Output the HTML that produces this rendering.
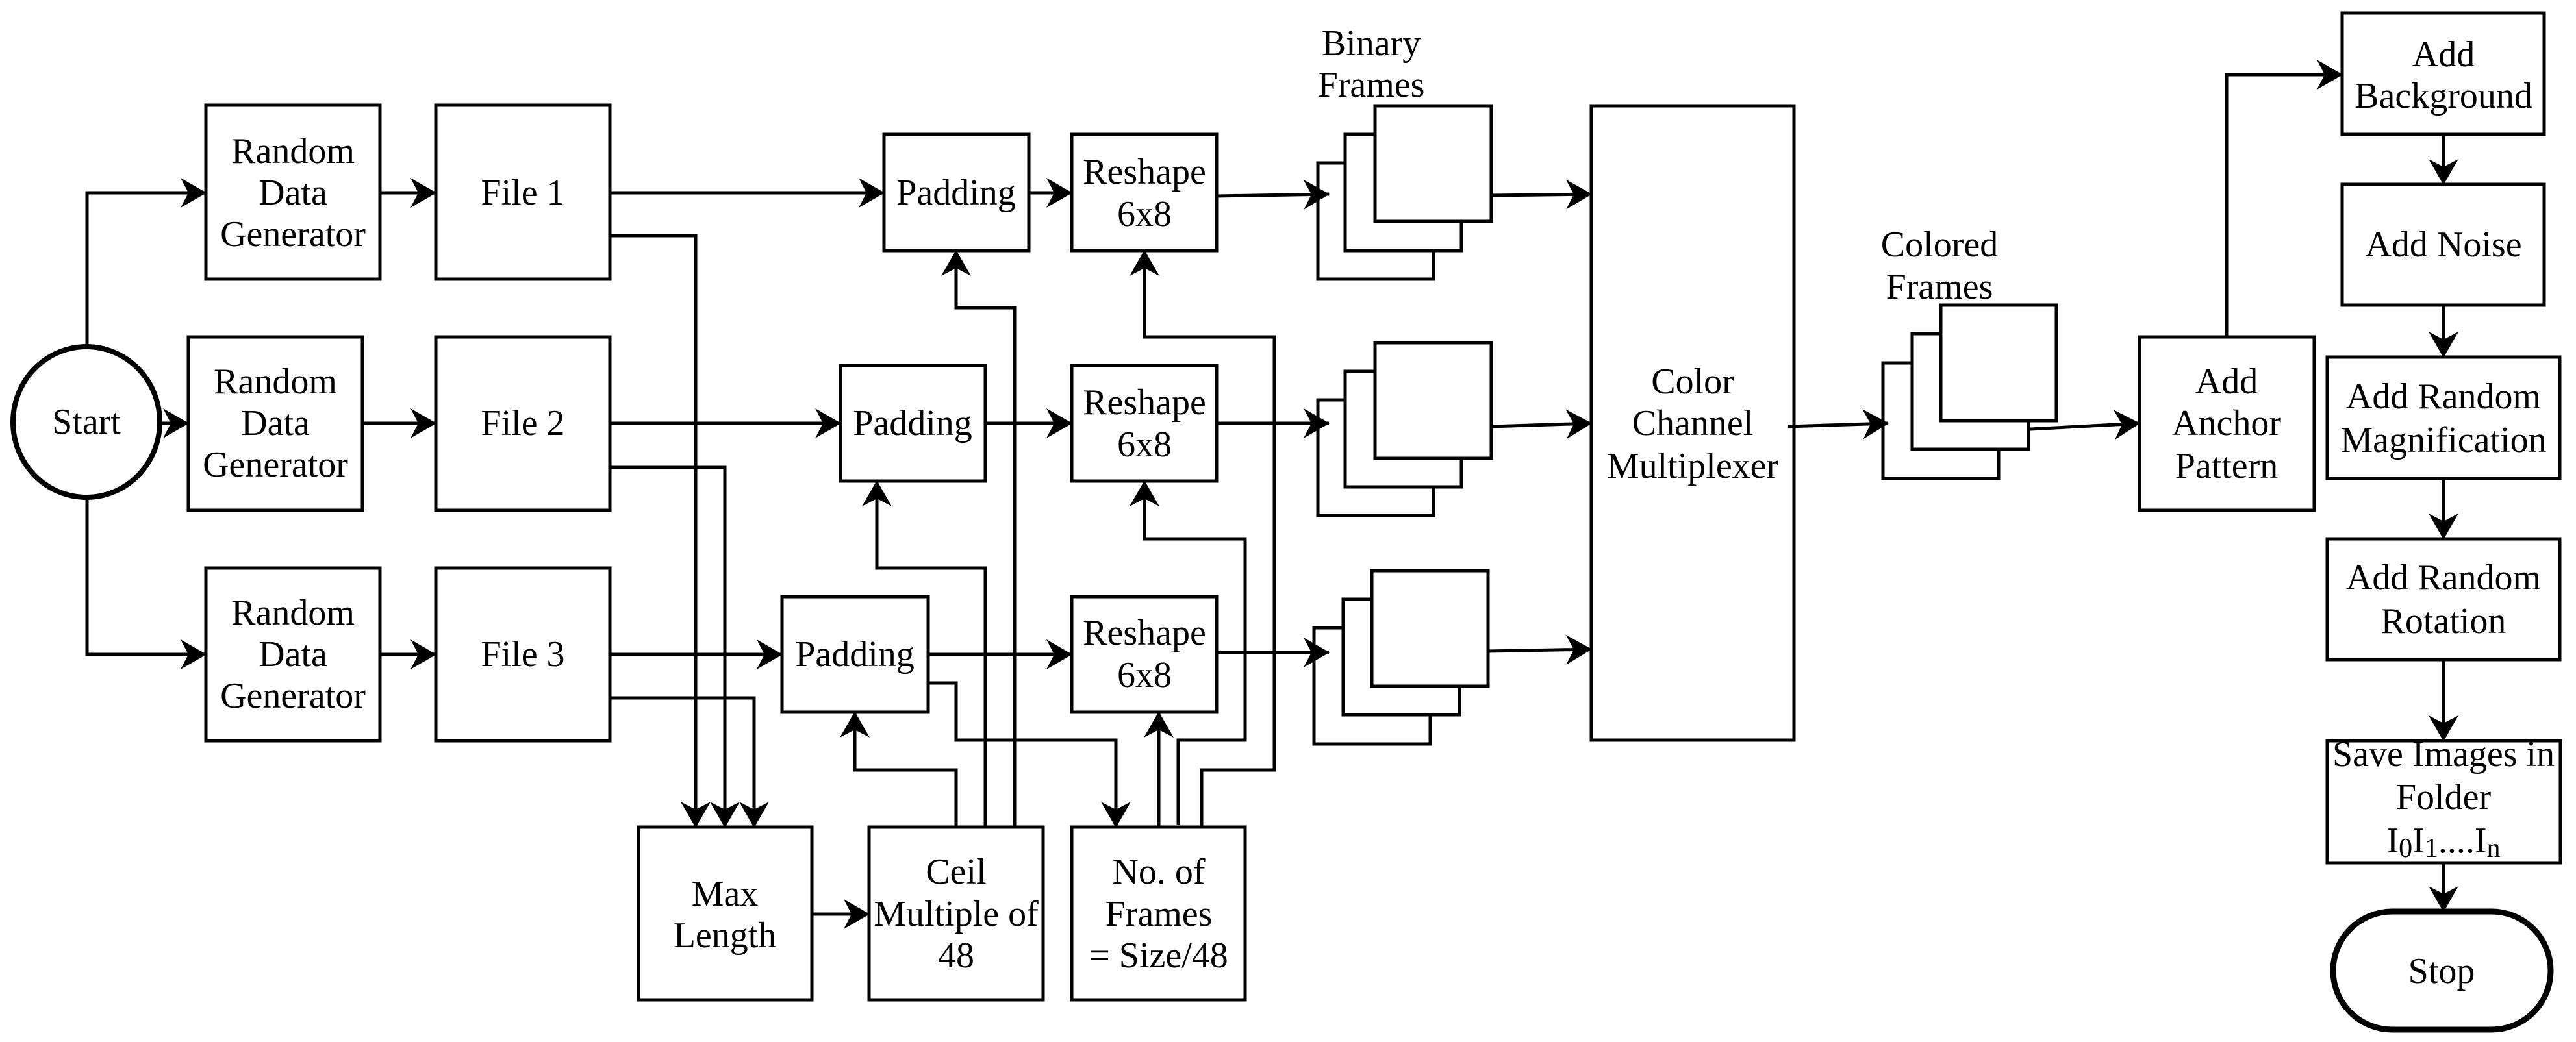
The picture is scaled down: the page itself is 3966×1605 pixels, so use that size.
<!DOCTYPE html>
<html><head><meta charset="utf-8"><style>
html,body{margin:0;padding:0;background:#fff;}
svg{display:block;}
text{font-family:"Liberation Serif","Times New Roman","DejaVu Serif",serif;font-size:56px;fill:#000;text-anchor:middle;dominant-baseline:central;}
</style></head><body>
<svg width="3966" height="1605" viewBox="0 0 3966 1605" xmlns="http://www.w3.org/2000/svg">
<defs>
<marker id="a" markerUnits="userSpaceOnUse" viewBox="0 0 40 46" markerWidth="40" markerHeight="46" refX="39" refY="23" orient="auto">
<path d="M0,0 L40,23 L0,46 L12,23 z" fill="#000"/>
</marker>
</defs>
<g fill="#fff" stroke="#000" stroke-width="5">
<ellipse cx="133" cy="650" rx="113" ry="116" stroke-width="8"/>
<rect x="317" y="162" width="268" height="268"/>
<rect x="290" y="519" width="268" height="267"/>
<rect x="317" y="875" width="268" height="266"/>
<rect x="671" y="162" width="268" height="268"/>
<rect x="671" y="519" width="268" height="267"/>
<rect x="671" y="875" width="268" height="266"/>
<rect x="1361" y="207" width="223" height="179"/>
<rect x="1294" y="563" width="223" height="178"/>
<rect x="1204" y="919" width="225" height="178"/>
<rect x="1650" y="207" width="223" height="179"/>
<rect x="1650" y="563" width="223" height="178"/>
<rect x="1650" y="919" width="223" height="178"/>
<rect x="983" y="1274" width="267" height="266"/>
<rect x="1338" y="1274" width="268" height="266"/>
<rect x="1650" y="1274" width="267" height="266"/>
<rect x="2029" y="251" width="178" height="179"/>
<rect x="2071" y="207" width="179" height="179"/>
<rect x="2117" y="163" width="179" height="178"/>
<rect x="2029" y="616" width="178" height="178"/>
<rect x="2071" y="572" width="179" height="178"/>
<rect x="2117" y="528" width="179" height="178"/>
<rect x="2023" y="967" width="179" height="179"/>
<rect x="2068" y="923" width="179" height="178"/>
<rect x="2112" y="879" width="179" height="178"/>
<rect x="2450" y="163" width="312" height="977"/>
<rect x="2899" y="559" width="178" height="178"/>
<rect x="2944" y="514" width="179" height="178"/>
<rect x="2988" y="470" width="178" height="178"/>
<rect x="3294" y="519" width="269" height="267"/>
<rect x="3606" y="20" width="311" height="187"/>
<rect x="3606" y="284" width="311" height="186"/>
<rect x="3583" y="550" width="358" height="187"/>
<rect x="3583" y="830" width="358" height="186"/>
<rect x="3583" y="1141" width="359" height="188"/>
<rect x="3592" y="1404" width="335" height="182" rx="91" ry="91" stroke-width="9"/>
</g>
<g fill="none" stroke="#000" stroke-width="5" marker-end="url(#a)">
<path d="M134,534 V297 H317"/>
<path d="M134,766 V1008 H317"/>
<path d="M246,652 H290"/>
<path d="M585,297 H671"/><path d="M558,652 H671"/><path d="M585,1008 H671"/>
<path d="M939,297 H1361"/><path d="M939,652 H1294"/><path d="M939,1008 H1204"/>
<path d="M1584,297 H1650"/><path d="M1517,652 H1650"/><path d="M1429,1008 H1650"/>
<path d="M1873,302 L2046,299"/><path d="M1873,652 H2046"/><path d="M1873,1005 H2046"/>
<path d="M2296,301 L2450,299"/><path d="M2296,657 L2450,652"/><path d="M2291,1003 L2450,1000"/>
<path d="M939,363 H1071 V1274"/>
<path d="M939,720 H1116 V1274"/>
<path d="M939,1075 H1161 V1274"/>
<path d="M1250,1408 H1338"/>
<path d="M1562,1274 V474 H1472 V386"/>
<path d="M1517,1274 V875 H1350 V741"/>
<path d="M1472,1274 V1186 H1316 V1097"/>
<path d="M1429,1052 H1472 V1140 H1718 V1274"/>
<path d="M1784,1274 V1097"/>
<path d="M1814,1270 V1140 H1917 V830 H1762 V741"/>
<path d="M1850,1274 V1186 H1962 V519 H1762 V386"/>
<path d="M2753,657 L2907,652"/>
<path d="M3126,661 L3294,652"/>
<path d="M3428,519 V115 H3606"/>
<path d="M3762,207 V284"/><path d="M3762,470 V550"/><path d="M3762,737 V830"/>
<path d="M3762,1016 V1141"/><path d="M3762,1329 V1404"/>
</g>
<g font-family="Liberation Serif, Times New Roman, DejaVu Serif, serif">
<text x="133" y="650">Start</text>
<text x="451" y="233">Random</text><text x="451" y="297">Data</text><text x="451" y="361">Generator</text>
<text x="424" y="588">Random</text><text x="424" y="652">Data</text><text x="424" y="716">Generator</text>
<text x="451" y="944">Random</text><text x="451" y="1008">Data</text><text x="451" y="1072">Generator</text>
<text x="805" y="297">File 1</text><text x="805" y="652">File 2</text><text x="805" y="1008">File 3</text>
<text x="1472" y="297">Padding</text><text x="1405" y="652">Padding</text><text x="1316" y="1008">Padding</text>
<text x="1762" y="265">Reshape</text><text x="1762" y="330">6x8</text>
<text x="1762" y="620">Reshape</text><text x="1762" y="685">6x8</text>
<text x="1762" y="975">Reshape</text><text x="1762" y="1040">6x8</text>
<text x="1116" y="1377">Max</text><text x="1116" y="1441">Length</text>
<text x="1472" y="1343">Ceil</text><text x="1472" y="1408">Multiple of</text><text x="1472" y="1472">48</text>
<text x="1784" y="1343">No. of</text><text x="1784" y="1408">Frames</text><text x="1784" y="1472">= Size/48</text>
<text x="2111" y="67">Binary</text><text x="2111" y="131">Frames</text>
<text x="2606" y="588">Color</text><text x="2606" y="652">Channel</text><text x="2606" y="718">Multiplexer</text>
<text x="2986" y="377">Colored</text><text x="2986" y="442">Frames</text>
<text x="3428" y="588">Add</text><text x="3428" y="652">Anchor</text><text x="3428" y="718">Pattern</text>
<text x="3762" y="84">Add</text><text x="3762" y="148">Background</text>
<text x="3762" y="377">Add Noise</text>
<text x="3762" y="611">Add Random</text><text x="3762" y="678">Magnification</text>
<text x="3762" y="890">Add Random</text><text x="3762" y="957">Rotation</text>
<text x="3762" y="1162">Save Images in</text><text x="3762" y="1228">Folder</text>
<text x="3762" y="1295">I<tspan dy="12" font-size="42">0</tspan><tspan dy="-12">I</tspan><tspan dy="12" font-size="42">1</tspan><tspan dy="-12">....I</tspan><tspan dy="12" font-size="42">n</tspan></text>
<text x="3759" y="1496">Stop</text>
</g>
</svg>
</body></html>
